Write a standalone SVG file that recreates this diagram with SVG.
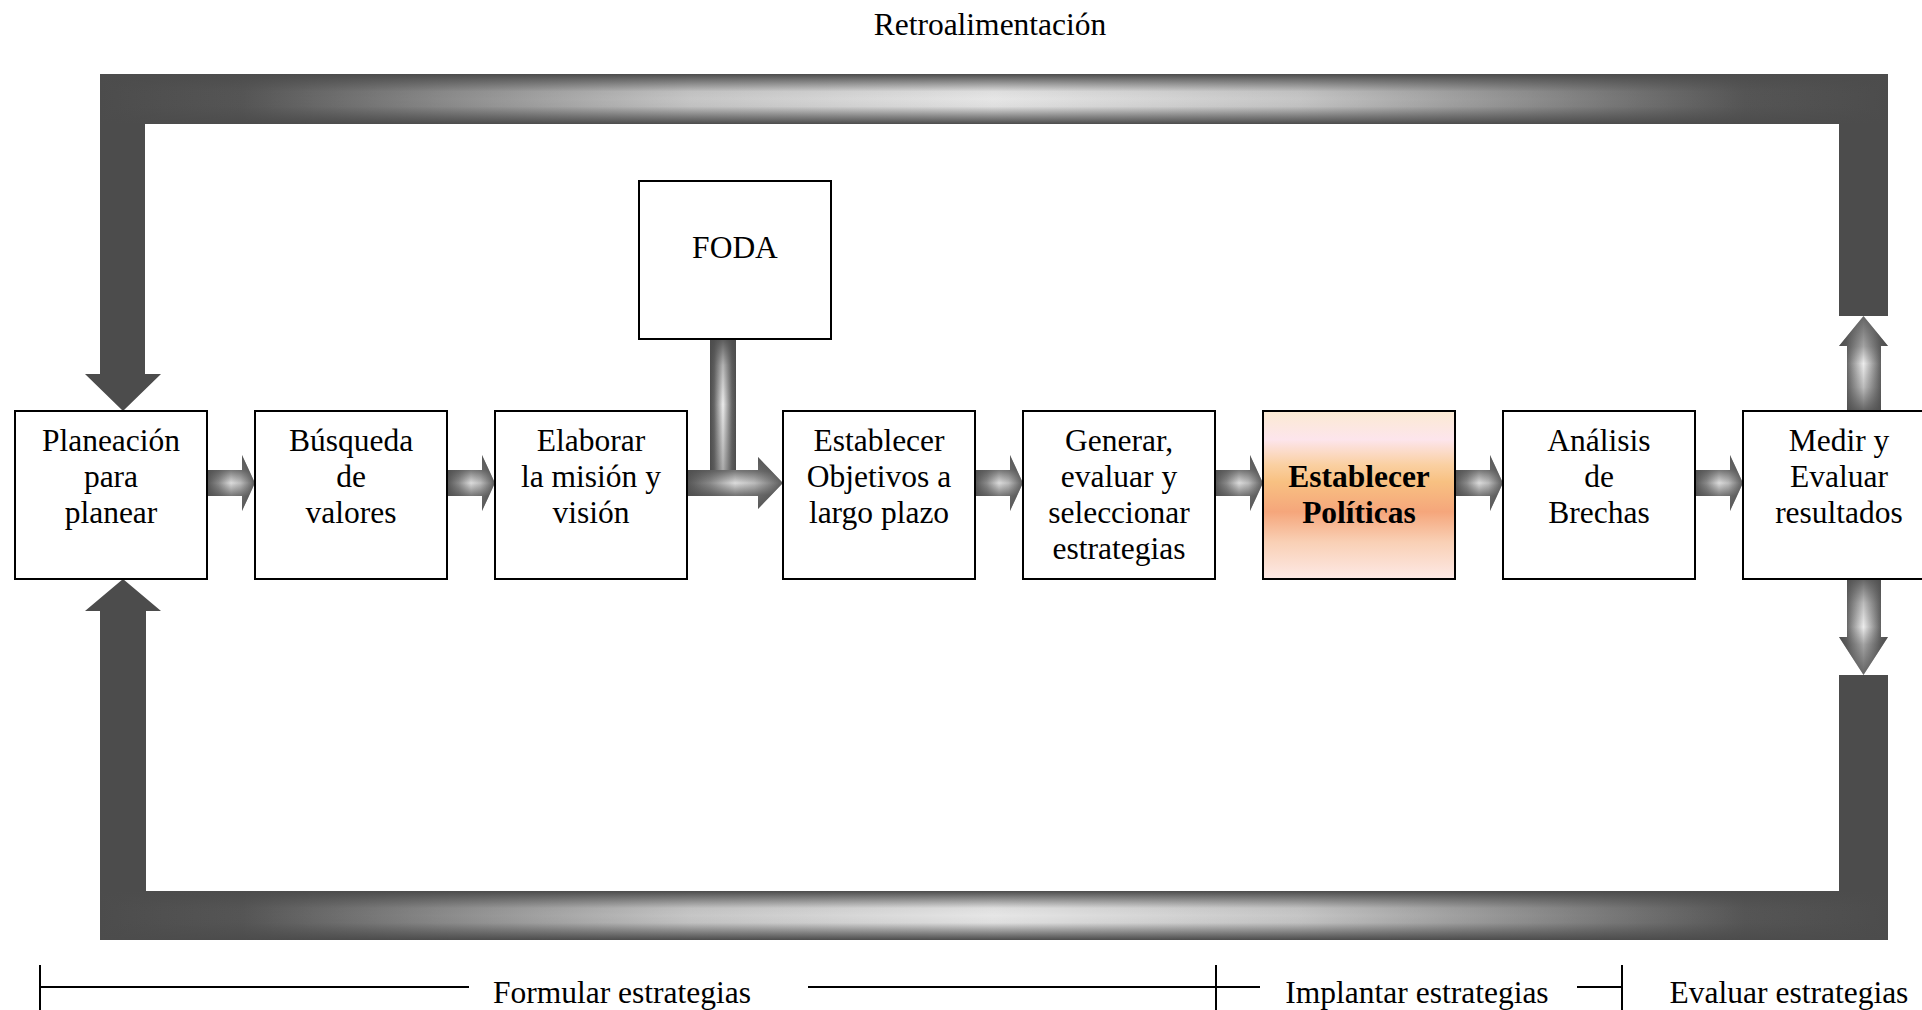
<svg xmlns="http://www.w3.org/2000/svg" width="1922" height="1010" viewBox="0 0 1922 1010">
  <style>
    .box { fill: #ffffff; stroke: #000000; stroke-width: 2; }
    .t { font-family: "Liberation Serif", "Times New Roman", serif; font-size: 31.5px; fill: #000000; text-anchor: middle; }
    .b { font-weight: bold; }
    .rule { stroke: #000000; stroke-width: 2; fill: none; }
    .loop { fill: #4c4c4c; }
  </style>
  <defs>
    <!-- feedback bars: light in the middle of the run, dark at the corners -->
    <linearGradient id="barX" x1="0" y1="0" x2="1" y2="0">
      <stop offset="0" stop-color="#4c4c4c"/>
      <stop offset="0.08" stop-color="#555555"/>
      <stop offset="0.2" stop-color="#8e8e8e"/>
      <stop offset="0.33" stop-color="#c6c6c6"/>
      <stop offset="0.5" stop-color="#e6e6e6"/>
      <stop offset="0.67" stop-color="#c6c6c6"/>
      <stop offset="0.8" stop-color="#8e8e8e"/>
      <stop offset="0.92" stop-color="#555555"/>
      <stop offset="1" stop-color="#4c4c4c"/>
    </linearGradient>
    <linearGradient id="barY" x1="0" y1="0" x2="0" y2="1">
      <stop offset="0" stop-color="#4c4c4c" stop-opacity="1"/>
      <stop offset="0.15" stop-color="#4c4c4c" stop-opacity="0.6"/>
      <stop offset="0.35" stop-color="#4c4c4c" stop-opacity="0.05"/>
      <stop offset="0.5" stop-color="#4c4c4c" stop-opacity="0"/>
      <stop offset="0.65" stop-color="#4c4c4c" stop-opacity="0.05"/>
      <stop offset="0.85" stop-color="#4c4c4c" stop-opacity="0.6"/>
      <stop offset="1" stop-color="#4c4c4c" stop-opacity="1"/>
    </linearGradient>

    <!-- horizontal block arrows -->
    <linearGradient id="ahX" x1="0" y1="0" x2="1" y2="0">
      <stop offset="0" stop-color="#555555"/>
      <stop offset="0.25" stop-color="#8c8c8c"/>
      <stop offset="0.5" stop-color="#dcdcdc"/>
      <stop offset="0.7" stop-color="#bcbcbc"/>
      <stop offset="1" stop-color="#5a5a5a"/>
    </linearGradient>
    <linearGradient id="ahY" x1="0" y1="0" x2="0" y2="1">
      <stop offset="0" stop-color="#4c4c4c" stop-opacity="0.9"/>
      <stop offset="0.27" stop-color="#4c4c4c" stop-opacity="0.7"/>
      <stop offset="0.5" stop-color="#4c4c4c" stop-opacity="0"/>
      <stop offset="0.73" stop-color="#4c4c4c" stop-opacity="0.7"/>
      <stop offset="1" stop-color="#4c4c4c" stop-opacity="0.9"/>
    </linearGradient>

    <!-- vertical block arrows -->
    <linearGradient id="avX" x1="0" y1="0" x2="1" y2="0">
      <stop offset="0" stop-color="#4c4c4c"/>
      <stop offset="0.16" stop-color="#666666"/>
      <stop offset="0.5" stop-color="#ececec"/>
      <stop offset="0.84" stop-color="#666666"/>
      <stop offset="1" stop-color="#4c4c4c"/>
    </linearGradient>
    <linearGradient id="avUpY" x1="0" y1="0" x2="0" y2="1">
      <stop offset="0" stop-color="#4c4c4c" stop-opacity="0.85"/>
      <stop offset="0.32" stop-color="#4c4c4c" stop-opacity="0.45"/>
      <stop offset="0.5" stop-color="#4c4c4c" stop-opacity="0"/>
      <stop offset="0.75" stop-color="#4c4c4c" stop-opacity="0.3"/>
      <stop offset="1" stop-color="#4c4c4c" stop-opacity="0.85"/>
    </linearGradient>
    <linearGradient id="avDownY" x1="0" y1="1" x2="0" y2="0">
      <stop offset="0" stop-color="#4c4c4c" stop-opacity="0.85"/>
      <stop offset="0.32" stop-color="#4c4c4c" stop-opacity="0.45"/>
      <stop offset="0.5" stop-color="#4c4c4c" stop-opacity="0"/>
      <stop offset="0.75" stop-color="#4c4c4c" stop-opacity="0.3"/>
      <stop offset="1" stop-color="#4c4c4c" stop-opacity="0.85"/>
    </linearGradient>
    <linearGradient id="stemY" x1="0" y1="0" x2="0" y2="1">
      <stop offset="0" stop-color="#4c4c4c" stop-opacity="0.9"/>
      <stop offset="0.2" stop-color="#4c4c4c" stop-opacity="0.35"/>
      <stop offset="0.5" stop-color="#4c4c4c" stop-opacity="0"/>
      <stop offset="1" stop-color="#4c4c4c" stop-opacity="0.4"/>
    </linearGradient>

    <!-- highlighted step -->
    <linearGradient id="polFill" x1="0" y1="0" x2="0" y2="1">
      <stop offset="0" stop-color="#fbead2"/>
      <stop offset="0.17" stop-color="#fde5ec"/>
      <stop offset="0.32" stop-color="#fad0a2"/>
      <stop offset="0.42" stop-color="#f8c182"/>
      <stop offset="0.6" stop-color="#f5a67b"/>
      <stop offset="0.78" stop-color="#f9d0b5"/>
      <stop offset="1" stop-color="#fde9e6"/>
    </linearGradient>

    <path id="hArrow" d="M0,15 H35 V0 L48,28 L35,56 V41 H0 Z"/>
  </defs>

  <rect x="0" y="0" width="1922" height="1010" fill="#ffffff"/>

  <!-- title of the loop -->
  <text class="t" x="990" y="35">Retroalimentación</text>

  <!-- connectors -->
  <g id="connectors">
    <!-- feedback loop, top half -->
    <path class="loop" d="M100,74 H1888 V316 H1839 V124 H145 V374 H161 L123,411 L85,374 H100 Z"/>
    <rect x="100" y="74" width="1788" height="50" fill="url(#barX)"/>
    <rect x="100" y="74" width="1788" height="50" fill="url(#barY)"/>
    <!-- feedback loop, bottom half -->
    <path class="loop" d="M100,940 H1888 V675 H1839 V891 H146 V611 H161 L123,579 L85,611 H100 Z"/>
    <rect x="100" y="891" width="1788" height="49" fill="url(#barX)"/>
    <rect x="100" y="891" width="1788" height="49" fill="url(#barY)"/>

    <!-- step arrows -->
    <use href="#hArrow" x="207" y="455" fill="url(#ahX)"/>
    <use href="#hArrow" x="207" y="455" fill="url(#ahY)"/>
    <use href="#hArrow" x="447" y="455" fill="url(#ahX)"/>
    <use href="#hArrow" x="447" y="455" fill="url(#ahY)"/>
    <use href="#hArrow" x="975" y="455" fill="url(#ahX)"/>
    <use href="#hArrow" x="975" y="455" fill="url(#ahY)"/>
    <use href="#hArrow" x="1215" y="455" fill="url(#ahX)"/>
    <use href="#hArrow" x="1215" y="455" fill="url(#ahY)"/>
    <use href="#hArrow" x="1455" y="455" fill="url(#ahX)"/>
    <use href="#hArrow" x="1455" y="455" fill="url(#ahY)"/>
    <use href="#hArrow" x="1695" y="455" fill="url(#ahX)"/>
    <use href="#hArrow" x="1695" y="455" fill="url(#ahY)"/>

    <!-- FODA feed into the mission step arrow -->
    <rect x="710" y="339" width="26" height="131" fill="url(#avX)"/>
    <rect x="710" y="339" width="26" height="131" fill="url(#stemY)"/>
    <path d="M687,470 H758 V457 L783,483 L758,509 V496 H687 Z" fill="url(#ahX)"/>
    <path d="M687,470 H758 V457 L783,483 L758,509 V496 H687 Z" fill="url(#ahY)"/>

    <!-- results up into the feedback loop and down into it -->
    <path d="M1847,411 V346 H1839 L1863.5,316 L1888,346 H1881 V411 Z" fill="url(#avX)"/>
    <path d="M1847,411 V346 H1839 L1863.5,316 L1888,346 H1881 V411 Z" fill="url(#avUpY)"/>
    <path d="M1847,579 V637 H1839 L1863.5,675 L1888,637 H1881 V579 Z" fill="url(#avX)"/>
    <path d="M1847,579 V637 H1839 L1863.5,675 L1888,637 H1881 V579 Z" fill="url(#avDownY)"/>
  </g>

  <!-- nodes -->
  <g id="n-foda">
    <rect class="box" x="639" y="181" width="192" height="158"/>
    <text class="t" x="735" y="258">FODA</text>
  </g>

  <g id="n-planeacion">
    <rect class="box" x="15" y="411" width="192" height="168"/>
    <text class="t" x="111" y="451">Planeación</text>
    <text class="t" x="111" y="487">para</text>
    <text class="t" x="111" y="523">planear</text>
  </g>

  <g id="n-valores">
    <rect class="box" x="255" y="411" width="192" height="168"/>
    <text class="t" x="351" y="451">Búsqueda</text>
    <text class="t" x="351" y="487">de</text>
    <text class="t" x="351" y="523">valores</text>
  </g>

  <g id="n-mision">
    <rect class="box" x="495" y="411" width="192" height="168"/>
    <text class="t" x="591" y="451">Elaborar</text>
    <text class="t" x="591" y="487">la misión y</text>
    <text class="t" x="591" y="523">visión</text>
  </g>

  <g id="n-objetivos">
    <rect class="box" x="783" y="411" width="192" height="168"/>
    <text class="t" x="879" y="451">Establecer</text>
    <text class="t" x="879" y="487">Objetivos a</text>
    <text class="t" x="879" y="523">largo plazo</text>
  </g>

  <g id="n-estrategias">
    <rect class="box" x="1023" y="411" width="192" height="168"/>
    <text class="t" x="1119" y="451">Generar,</text>
    <text class="t" x="1119" y="487">evaluar y</text>
    <text class="t" x="1119" y="523">seleccionar</text>
    <text class="t" x="1119" y="559">estrategias</text>
  </g>

  <g id="n-politicas">
    <rect class="box" x="1263" y="411" width="192" height="168" fill="url(#polFill)" style="fill:url(#polFill)"/>
    <text class="t b" x="1359" y="487">Establecer</text>
    <text class="t b" x="1359" y="523">Políticas</text>
  </g>

  <g id="n-brechas">
    <rect class="box" x="1503" y="411" width="192" height="168"/>
    <text class="t" x="1599" y="451">Análisis</text>
    <text class="t" x="1599" y="487">de</text>
    <text class="t" x="1599" y="523">Brechas</text>
  </g>

  <g id="n-medir">
    <rect class="box" x="1743" y="411" width="192" height="168"/>
    <text class="t" x="1839" y="451">Medir y</text>
    <text class="t" x="1839" y="487">Evaluar</text>
    <text class="t" x="1839" y="523">resultados</text>
  </g>

  <!-- stage scale along the bottom -->
  <g id="stages">
    <line class="rule" x1="40" y1="965" x2="40" y2="1010"/>
    <line class="rule" x1="40" y1="987" x2="469" y2="987"/>
    <text class="t" x="622" y="1003">Formular estrategias</text>
    <line class="rule" x1="808" y1="987" x2="1260" y2="987"/>
    <line class="rule" x1="1216" y1="965" x2="1216" y2="1010"/>
    <text class="t" x="1417" y="1003">Implantar estrategias</text>
    <line class="rule" x1="1577" y1="987" x2="1622" y2="987"/>
    <line class="rule" x1="1622" y1="965" x2="1622" y2="1010"/>
    <text class="t" x="1789" y="1003">Evaluar estrategias</text>
  </g>
</svg>
